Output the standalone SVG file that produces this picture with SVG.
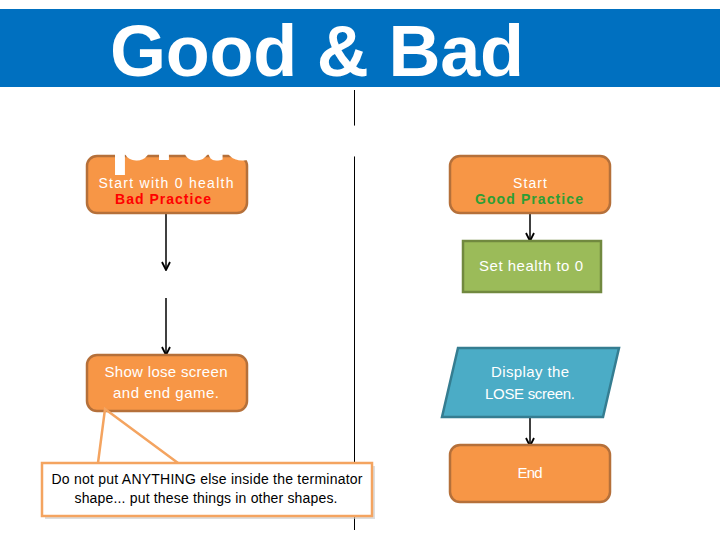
<svg xmlns="http://www.w3.org/2000/svg" width="720" height="540" viewBox="0 0 720 540">
<defs>
<style>
.term{fill:#F79646;stroke:#B5703A;stroke-width:2.5}
.proc{fill:#9BBB59;stroke:#71893F;stroke-width:2.5}
.io{fill:#4BACC6;stroke:#357D91;stroke-width:2.5}
.t{font-family:"Liberation Sans",Arial,sans-serif;font-size:15px;fill:#FFFFFF;text-anchor:middle}
.s{font-size:14px}
.b{font-weight:bold;font-size:14px}
.c{font-family:"Liberation Sans",Arial,sans-serif;font-size:14px;fill:#000000;text-anchor:middle}
.title{font-family:"Liberation Sans",Arial,sans-serif;font-size:72px;font-weight:bold;fill:#FFFFFF}
.conn{stroke:#000000;stroke-width:1.5;fill:none}
</style>
<marker id="arr" viewBox="0 0 10 10" refX="9" refY="5" markerWidth="10" markerHeight="10" markerUnits="userSpaceOnUse" orient="auto">
<path d="M1,1 L9,5 L1,9" fill="none" stroke="#000000" stroke-width="1.8"/>
</marker>
</defs>
<rect x="0" y="0" width="720" height="540" fill="#FFFFFF"/>
<rect id="banner" x="0" y="9" width="720" height="78" fill="#0070C0"/>
<g id="divider">
<line x1="354.5" y1="90" x2="354.5" y2="530" stroke="#000000" stroke-width="1"/>
</g>
<g id="connectors">
<line class="conn" x1="166" y1="214" x2="166" y2="270" marker-end="url(#arr)"/>
<line class="conn" x1="166" y1="298" x2="166" y2="355" marker-end="url(#arr)"/>
<line class="conn" x1="530" y1="214" x2="530" y2="241" marker-end="url(#arr)"/>
<line class="conn" x1="530" y1="417" x2="530" y2="446" marker-end="url(#arr)"/>
</g>
<g id="bad-start">
<rect class="term" x="87" y="156" width="160" height="57" rx="10"/>
</g>
<g id="good-start">
<rect class="term" x="450" y="156" width="160" height="57" rx="10"/>
<text class="t s" x="530" y="188" textLength="34">Start</text>
<text class="t b" x="529" y="204" style="fill:#2E9E35" textLength="108">Good Practice</text>
</g>
<g id="set-health">
<rect class="proc" x="463" y="241" width="138" height="51"/>
<text class="t" x="531" y="271" textLength="104">Set health to 0</text>
</g>
<g id="display-lose">
<polygon class="io" points="458,348 619,348 603,417 442,417"/>
<text class="t" x="530" y="377" textLength="78">Display the</text>
<text class="t" x="530" y="399" textLength="90">LOSE screen.</text>
</g>
<g id="end">
<rect class="term" x="450" y="445" width="160" height="57" rx="10"/>
<text class="t" x="530" y="478" textLength="25">End</text>
</g>
<g id="show-lose">
<rect class="term" x="87" y="355" width="160" height="56" rx="10"/>
<text class="t" x="166" y="377" textLength="123">Show lose screen</text>
<text class="t" x="166" y="398" textLength="106">and end game.</text>
</g>
<g id="title">
<text class="title" x="110" y="76" textLength="414">Good &amp; Bad</text>
<text class="title" x="110" y="160">practice</text>
</g>
<g id="bad-start-text">
<text class="t s" x="166" y="188" textLength="135">Start with 0 health</text>
<text class="t b" x="163" y="204" style="fill:#FF0000" textLength="96">Bad Practice</text>
</g>
<g id="callout">
<rect x="45" y="466" width="330" height="53" fill="#C8C8C8" opacity="0.6"/>
<rect x="42" y="463" width="330" height="53" fill="#FFFFFF" stroke="#F4A460" stroke-width="2.5"/>
<polyline points="98,463 105,409 178,463" fill="none" stroke="#F4A460" stroke-width="2.5"/>
<text class="c" x="207" y="484" textLength="311">Do not put ANYTHING else inside the terminator</text>
<text class="c" x="206" y="503" textLength="263">shape... put these things in other shapes.</text>
</g>
</svg>
